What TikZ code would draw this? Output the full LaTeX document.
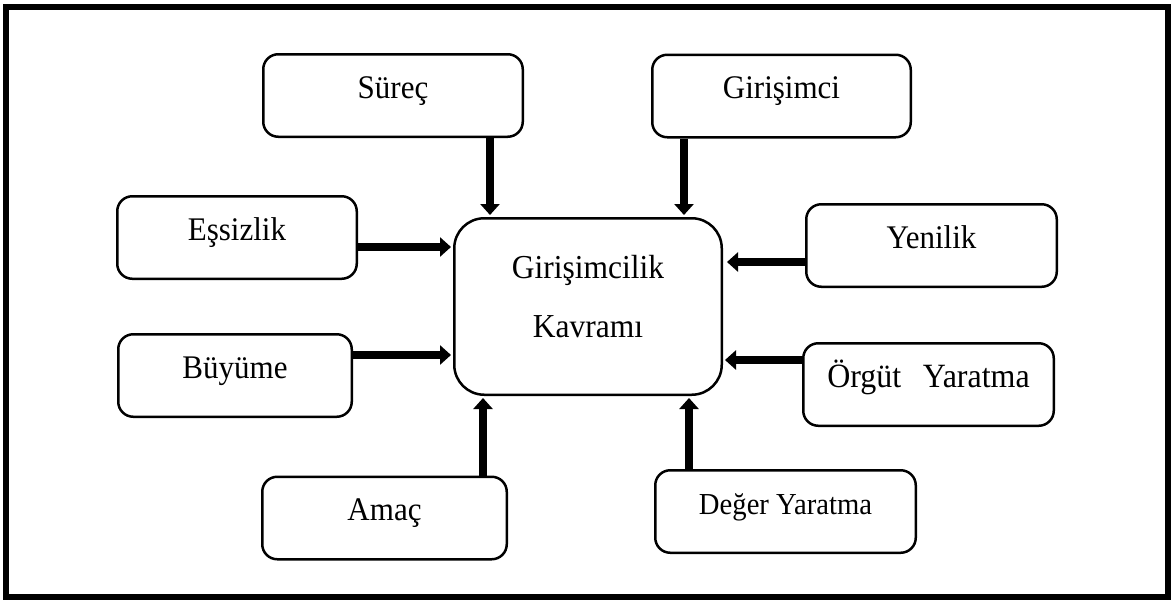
\documentclass[tikz,border=0pt]{standalone}
\usepackage{fontspec}
\setmainfont{Liberation Serif}[FakeStretch=0.94]
\usetikzlibrary{arrows.meta}
\begin{document}
\begin{tikzpicture}[x=1pt,y=-1pt,
  box/.style={draw, line width=2.5pt, rounded corners=15pt, minimum width=#1,
    minimum height=82.5pt, inner sep=0pt, text height=14pt, text depth=9pt,
    font=\fontsize{33}{39}\selectfont},
  bigbox/.style={draw, line width=2.5pt, rounded corners=30pt, minimum width=267.5pt,
    minimum height=176.5pt, inner sep=0pt},
  bigtext/.style={anchor=base, inner sep=0pt, font=\fontsize{33.5}{40}\selectfont},
  arr/.style={line width=8pt, -{Triangle[length=11pt,width=19pt]}, shorten >=2pt}]
\useasboundingbox (0,0) rectangle (1172,603);
\draw[line width=5.5pt] (6,7) rectangle (1168,597);
% boxes
\node[box=259.5] (sur) at (393,95.5) {Süreç};
\node[box=258.5] (gir) at (781.5,96) {Girişimci};
\node[box=239.5] (ess) at (237,237.5) {Eşsizlik};
\node[box=233.5] (buy) at (235,375.5) {Büyüme};
\node[box=244.5] (ama) at (384.5,518) {Amaç};
\node[box=250.5] (yen) at (931.5,245.5) {Yenilik};
\node[box=250.5, font=\fontsize{34}{40}\selectfont] (org) at (928.5,384.5) {Örgüt\hspace{0.4em} Yaratma};
\node[box=260.5, font=\fontsize{30.5}{36}\selectfont] (deg) at (785.5,511.5) {Değer Yaratma};
\node[bigbox] (cen) at (588,306.5) {};
\node[bigtext] (c1) at (588,278) {Girişimcilik};
\node[bigtext] (c2) at (588,337) {Kavramı};
% arrows
\draw[arr] ([xshift=97pt]sur.south) -- ([xshift=97pt]sur.south |- cen.north);
\draw[arr] ([xshift=-97.5pt]gir.south) -- ([xshift=-97.5pt]gir.south |- cen.north);
\draw[arr] ([xshift=98.5pt]ama.north) -- ([xshift=98.5pt]ama.north |- cen.south);
\draw[arr] ([xshift=-96.5pt]deg.north) -- ([xshift=-96.5pt]deg.north |- cen.south);
\draw[arr] ([yshift=-9.5pt]ess.east) -- ([yshift=-9.5pt]ess.east -| cen.west);
\draw[arr] ([yshift=20.5pt]buy.east) -- ([yshift=20.5pt]buy.east -| cen.west);
\draw[arr, shorten >=4pt] ([yshift=-16.5pt]yen.west) -- ([yshift=-16.5pt]yen.west -| cen.east);
\draw[arr] ([yshift=24.5pt]org.west) -- ([yshift=24.5pt]org.west -| cen.east);
\end{tikzpicture}
\end{document}
